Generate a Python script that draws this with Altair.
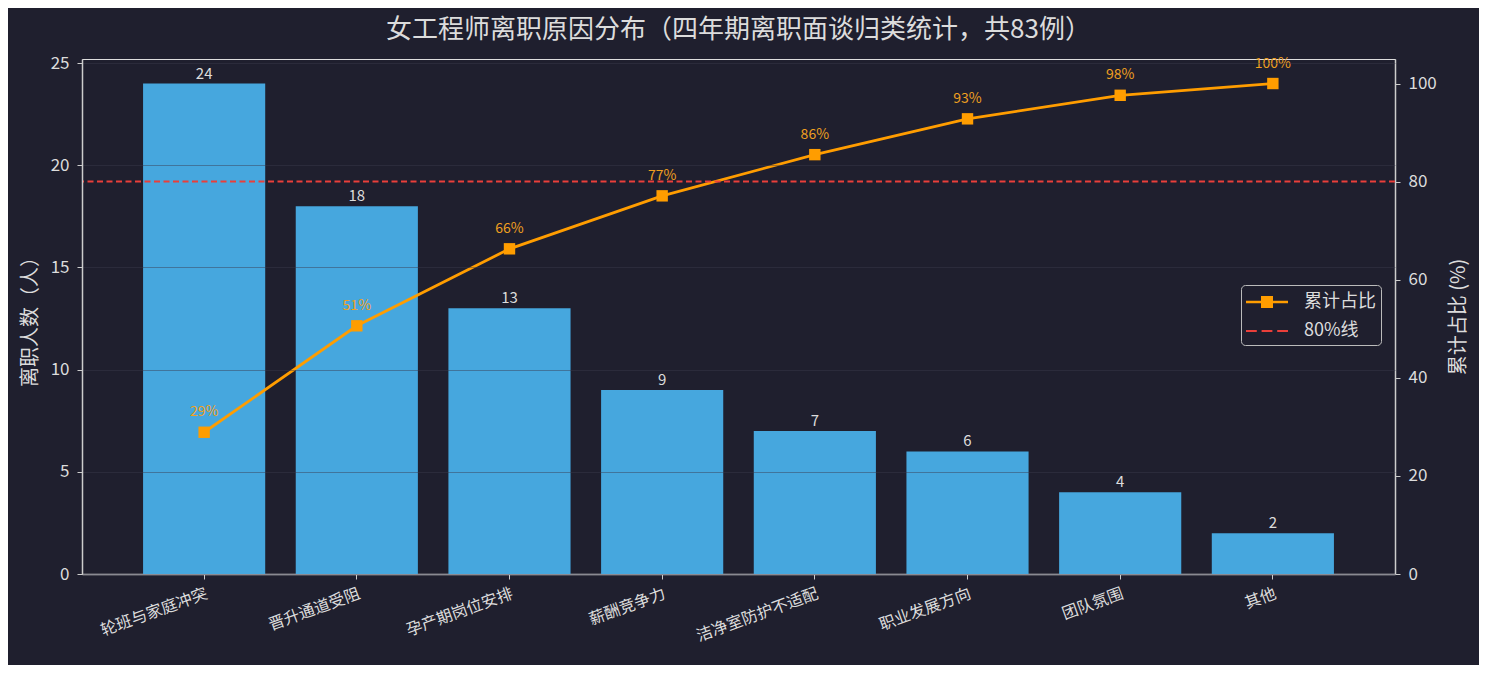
import altair as alt
import pandas as pd

categories = ["轮班与家庭冲突", "晋升通道受阻", "孕产期岗位安排", "薪酬竞争力",
              "洁净室防护不适配", "职业发展方向", "团队氛围", "其他"]
counts = [24, 18, 13, 9, 7, 6, 4, 2]
cum_pct = [28.9, 50.6, 66.3, 77.1, 85.5, 92.8, 97.6, 100.0]
cum_labels = ["29%", "51%", "66%", "77%", "86%", "93%", "98%", "100%"]
left_ticks = [0, 5, 10, 15, 20, 25]
right_ticks = [0, 20, 40, 60, 80, 100]
threshold = [80]
legend_names = ["累计占比", "80%线"]

FONT = "Noto Sans CJK SC"
BG = "#1f1f2e"
TXT = "#dcdcdc"
BAR = "#46a7de"
ORANGE = "#ff9d00"
RED = "#ea3f3a"
PCT = "#f0a020"

df = pd.DataFrame({"reason": categories, "count": counts,
                   "cum": cum_pct, "cum_label": cum_labels})
thr = pd.DataFrame({"cum": threshold})
leg = pd.DataFrame({"series": legend_names})

x = alt.X("reason:N", sort=categories,
          scale=alt.Scale(paddingInner=0.2, paddingOuter=0.4),
          axis=alt.Axis(title=None, labelAngle=340, labelAlign="right",
                        labelBaseline="top", labelFontSize=16, labelColor=TXT,
                        labelFont=FONT, labelPadding=6, tickColor="#cccccc",
                        tickSize=5, domainColor="#cccccc", domainWidth=1.5))

yl_scale = alt.Scale(domain=[0, 25.2], nice=False, zero=True)
yr_scale = alt.Scale(domain=[0, 105], nice=False, zero=True)

bars = alt.Chart(df).mark_bar(color=BAR).encode(
    x=x,
    y=alt.Y("count:Q", scale=yl_scale,
            axis=alt.Axis(values=left_ticks, title="离职人数（人）", grid=True,
                          gridColor="#3a3a4c", gridOpacity=0.45, zindex=1,
                          labelFontSize=17, labelColor=TXT, labelFont=FONT,
                          labelPadding=8,
                          titleFontSize=20, titleColor=TXT, titleFont=FONT,
                          titleFontWeight="normal", titlePadding=10,
                          tickColor="#cccccc", tickSize=5,
                          domainColor="#cccccc", domainWidth=1.5)),
)
bar_text = alt.Chart(df).mark_text(baseline="bottom", dy=-2, fontSize=15,
                                   color=TXT, font=FONT).encode(
    x=x, y=alt.Y("count:Q", scale=yl_scale), text="count:Q")

left = alt.layer(bars, bar_text)

line = alt.Chart(df).mark_line(color=ORANGE, strokeWidth=2.8).encode(
    x=x,
    y=alt.Y("cum:Q", scale=yr_scale,
            axis=alt.Axis(orient="right", values=right_ticks, title="累计占比 (%)",
                          grid=False, labelFontSize=17, labelColor=TXT,
                          labelFont=FONT, labelPadding=8,
                          titleFontSize=20, titleColor=TXT,
                          titleFont=FONT, titleFontWeight="normal",
                          titleAngle=270, titleBaseline="top", titlePadding=12,
                          tickColor="#cccccc", tickSize=5,
                          domainColor="#cccccc", domainWidth=1.5)),
)
pts = alt.Chart(df).mark_point(shape="square", filled=True, size=130,
                               color=ORANGE, opacity=1).encode(
    x=x, y=alt.Y("cum:Q", scale=yr_scale))
pct_text = alt.Chart(df).mark_text(baseline="bottom", dy=-13, fontSize=14,
                                   color=PCT, font=FONT).encode(
    x=x, y=alt.Y("cum:Q", scale=yr_scale), text="cum_label:N")
rule = alt.Chart(thr).mark_rule(color=RED, strokeDash=[6, 3.5],
                                strokeWidth=2).encode(
    y=alt.Y("cum:Q", scale=yr_scale))

# legend symbols (unit = 12px, symbol drawn from x=0 to x=42 of the entry)
pathA = ("M-1,-0.1H0.25V-0.5H1.25V-0.1H2.5V0.1H1.25V0.5H0.25V0.1H-1Z")
pathB = ("M-1,-0.08H-0.1V0.08H-1Z M0.3,-0.08H1.2V0.08H0.3Z "
         "M1.6,-0.08H2.5V0.08H1.6Z")

legend_props = dict(title=None, orient="none", legendX=1159, legendY=226,
                    labelFontSize=18, labelColor=TXT, labelFont=FONT,
                    symbolSize=576, symbolStrokeWidth=0, padding=5,
                    rowPadding=8, strokeColor="#bbbbbb", fillColor=BG,
                    cornerRadius=4, labelOffset=34)

legend_layer = alt.Chart(leg).mark_point(filled=True, opacity=1).encode(
    shape=alt.Shape("series:N", scale=alt.Scale(domain=legend_names, range=[pathA, pathB]),
                    legend=alt.Legend(**legend_props)),
    color=alt.Color("series:N", scale=alt.Scale(domain=legend_names, range=[ORANGE, RED]),
                    legend=alt.Legend(**legend_props)),
).transform_filter("false")

right = alt.layer(line, rule, pts, pct_text, legend_layer)

chart = alt.layer(left, right).resolve_scale(y="independent").properties(
    width=1313, height=515,
    background=BG,
    padding={"left": 74, "top": 51, "right": 84, "bottom": 91},
    autosize=alt.AutoSizeParams(type="none"),
    title=alt.Title("女工程师离职原因分布（四年期离职面谈归类统计，共83例）",
                    fontSize=26, color=TXT, font=FONT, fontWeight="normal",
                    offset=11, anchor="middle"),
).configure_view(stroke="#cccccc", strokeWidth=1.5).configure(font=FONT)

chart.save("out.html", embed_options={"renderer": "svg", "actions": False})
